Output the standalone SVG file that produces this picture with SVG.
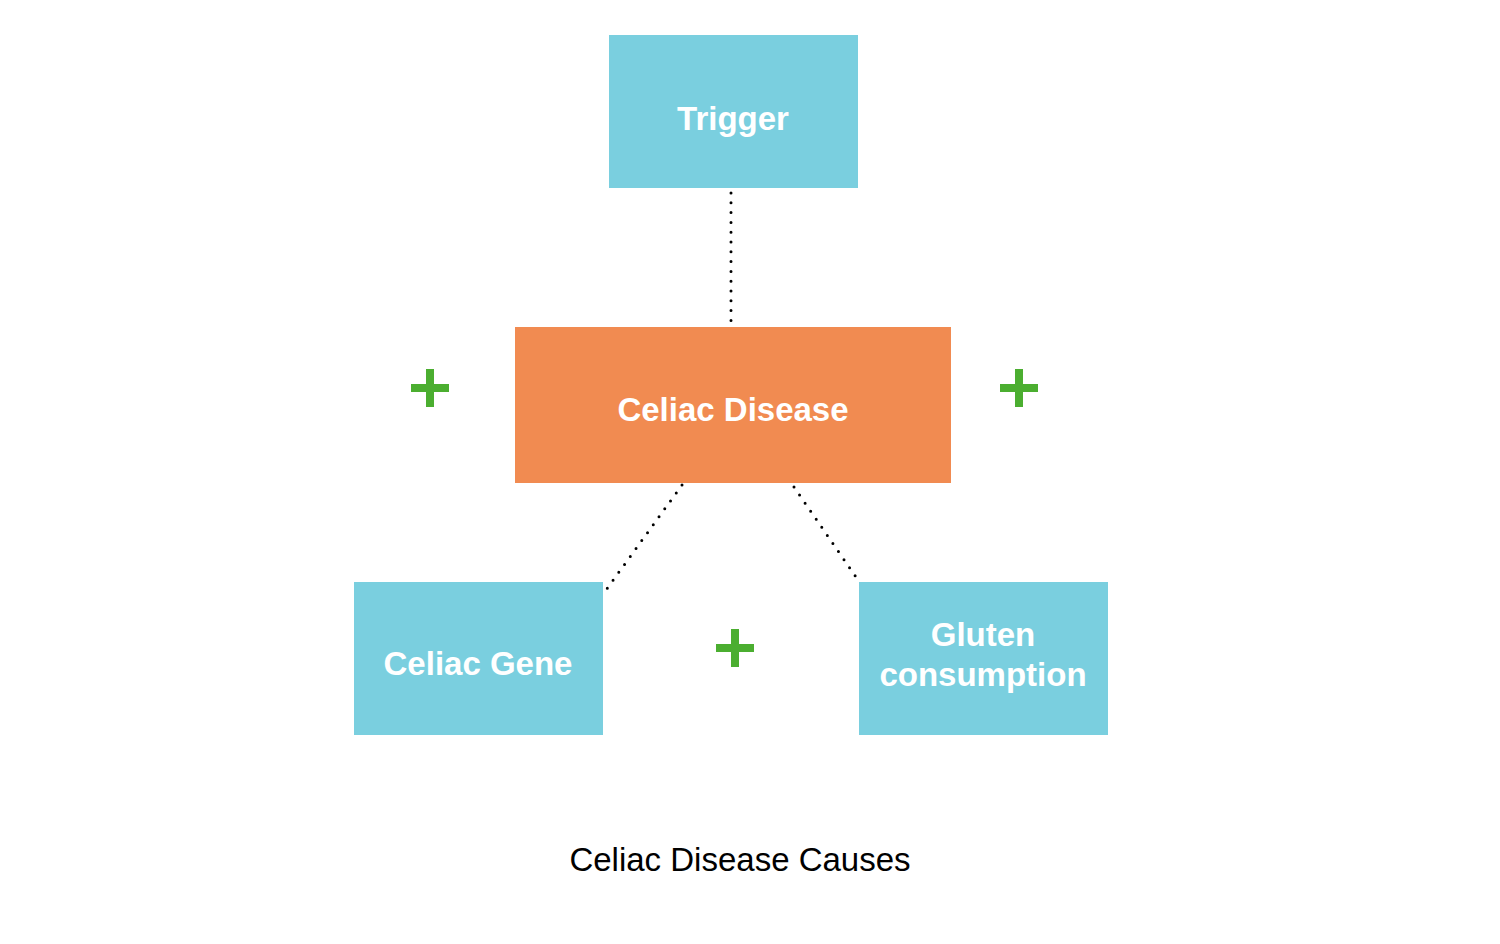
<svg xmlns="http://www.w3.org/2000/svg" width="1500" height="944" viewBox="0 0 1500 944">
<style>
.blue{fill:#7ACFDF}
.orange{fill:#F18B51}
.lbl{font-family:"Liberation Sans",Arial,sans-serif;font-weight:bold;font-size:33px;fill:#ffffff;text-anchor:middle}
.plus{fill:#4BAE30}
.dot{stroke:#000;stroke-width:3;stroke-linecap:round;stroke-dasharray:0 9.8;fill:none}
.cap{font-family:"Liberation Sans",Arial,sans-serif;font-size:33px;fill:#000;text-anchor:middle}
</style>
<defs>
<g id="plusSign"><rect x="-19" y="-4" width="38" height="8"/><rect x="-4" y="-19" width="8" height="38"/></g>
</defs>
<rect width="1500" height="944" fill="#fff"/>
<g id="connectors">
<line class="dot" x1="731" y1="193" x2="731" y2="323"/>
<line class="dot" x1="682" y1="485" x2="606" y2="590"/>
<line class="dot" x1="794" y1="487" x2="858" y2="580"/>
</g>
<g id="trigger"><rect class="blue" x="609" y="35" width="249" height="153"/><text class="lbl" x="733" y="130">Trigger</text></g>
<g id="celiac-disease"><rect class="orange" x="515" y="327" width="436" height="156"/><text class="lbl" x="733" y="421">Celiac Disease</text></g>
<g id="celiac-gene"><rect class="blue" x="354" y="582" width="249" height="153"/><text class="lbl" x="478" y="675">Celiac Gene</text></g>
<g id="gluten"><rect class="blue" x="859" y="582" width="249" height="153"/><text class="lbl" x="983" y="646">Gluten</text><text class="lbl" x="983" y="686">consumption</text></g>
<g id="plus-left" class="plus"><use href="#plusSign" x="430" y="388"/></g>
<g id="plus-right" class="plus"><use href="#plusSign" x="1019" y="388"/></g>
<g id="plus-middle" class="plus"><use href="#plusSign" x="735" y="648"/></g>
<g id="caption"><text class="cap" x="740" y="871">Celiac Disease Causes</text></g>
</svg>
